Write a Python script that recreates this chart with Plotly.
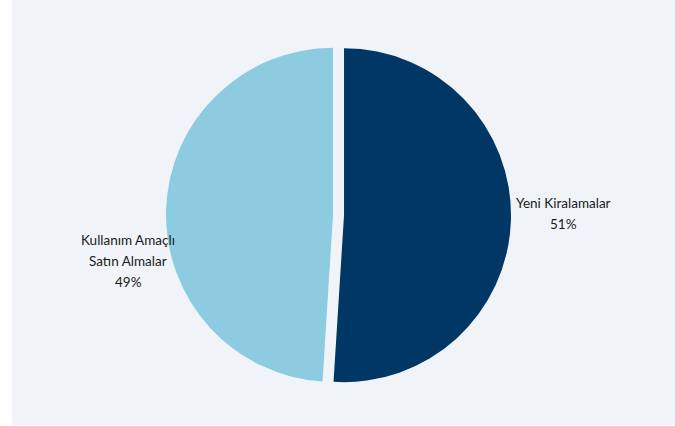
import plotly.graph_objects as go

# Share of transactions by type
categories = ["Yeni Kiralamalar", "Kullanım Amaçlı Satın Almalar"]
label_lines = [["Yeni Kiralamalar"], ["Kullanım Amaçlı", "Satın Almalar"]]
shares = [51, 49]
colors = ["#003764", "#8ccbe0"]

W, H = 675, 426
BG = "#f0f4f8"
FONT = "Lato"

fig = go.Figure(
    go.Pie(
        labels=categories,
        values=shares,
        sort=False,
        direction="clockwise",
        rotation=0,
        pull=[0.033, 0.033],
        marker=dict(colors=colors, line=dict(width=0)),
        textinfo="none",
        hoverinfo="label+percent",
        showlegend=False,
        domain=dict(x=[0.2, 0.803], y=[0.0904, 0.9002]),
    )
)

# Slice labels: category name lines followed by the percentage
label_pos = [(563 / W, 203), (128 / W, 240)]
line_gap = 21
for lines, val, (ax, ay) in zip(label_lines, shares, label_pos):
    texts = lines + [f"{val}%"]
    for i, t in enumerate(texts):
        fig.add_annotation(
            text=t,
            xref="paper", yref="paper",
            x=ax, y=1 - (ay + i * line_gap) / H,
            xanchor="center", yanchor="middle",
            showarrow=False,
            font=dict(family=FONT, size=13.5, color="#1a1a1a"),
        )

# Tinted panel behind the chart
fig.add_shape(
    type="rect", xref="paper", yref="paper",
    x0=12 / W, x1=1, y0=1 / H, y1=1,
    fillcolor=BG, line=dict(width=0), layer="below",
)

fig.update_layout(
    width=W, height=H,
    margin=dict(l=0, r=0, t=0, b=0),
    paper_bgcolor="white",
    plot_bgcolor="white",
)

fig.write_html("out.html")
